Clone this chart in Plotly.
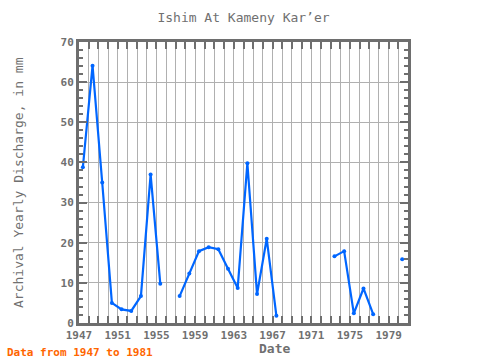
import plotly.graph_objects as go

years = [1947, 1948, 1949, 1950, 1951, 1952, 1953, 1954, 1955, 1956,
         1957, 1958, 1959, 1960, 1961, 1962, 1963, 1964, 1965, 1966,
         1967, 1968, 1969, 1970, 1971, 1972, 1973, 1974, 1975, 1976,
         1977, 1978, 1979, 1980]
discharge = [38.8, 64.1, 35.0, 5.0, 3.4, 3.0, 6.7, 37.0, 9.8, None,
             6.7, 12.3, 17.9, 18.9, 18.4, 13.5, 8.7, 39.8, 7.2, 21.0,
             1.8, None, None, None, None, None, 16.6, 17.9, 2.4, 8.6,
             2.2, None, None, 15.9]
x_tick_vals = [1947, 1951, 1955, 1959, 1963, 1967, 1971, 1975, 1979]
y_tick_vals = [0, 10, 20, 30, 40, 50, 60, 70]

# annual values plotted near mid-year
x_pos = [y + 0.4 for y in years]

axis_col = "#6e6e6e"
grid_col = "#b0b0b0"
font_fam = "DejaVu Sans Mono"
W, H = 480, 360
L, R, T, B = 79, 72, 42, 37
pw, ph = W - L - R, H - T - B

fig = go.Figure()
fig.add_trace(go.Scatter(
    x=x_pos, y=discharge, mode="lines+markers",
    line=dict(color="#0066ff", width=2.2),
    marker=dict(color="#0066ff", size=4),
    connectgaps=False, showlegend=False,
))

fig.update_layout(
    width=W, height=H,
    margin=dict(l=L, r=R, t=T, b=B, autoexpand=False),
    paper_bgcolor="white", plot_bgcolor="white",
    title=dict(text="Ishim At Kameny Kar’er", x=0.5, xref="paper", xanchor="center",
               y=1 - 17 / H, yref="container", yanchor="middle",
               font=dict(family=font_fam, size=13, color="#707070")),
    font=dict(family=font_fam),
)

fig.update_xaxes(
    range=[1947, 1981], tickmode="array", tickvals=x_tick_vals,
    ticktext=[str(v) for v in x_tick_vals], automargin=False,
    ticks="inside", ticklen=7, tickwidth=2, tickcolor=axis_col,
    showline=True, linewidth=3, linecolor=axis_col, mirror="ticks",
    showgrid=True, gridcolor=grid_col, gridwidth=1,
    minor=dict(dtick=1, tick0=1947, ticks="inside", ticklen=7, tickwidth=2,
               tickcolor=axis_col, showgrid=True, gridcolor=grid_col, gridwidth=1),
    tickfont=dict(family=font_fam, size=11, color="#707070", weight="bold"),
    zeroline=False,
)
fig.update_yaxes(
    range=[0, 70], tickmode="array", tickvals=y_tick_vals, automargin=False,
    ticks="inside", ticklen=8, tickwidth=2, tickcolor=axis_col,
    showline=True, linewidth=3, linecolor=axis_col, mirror="ticks",
    showgrid=True, gridcolor=grid_col, gridwidth=1,
    minor=dict(dtick=2, tick0=0, ticks="inside", ticklen=4, tickwidth=2,
               tickcolor=axis_col, showgrid=False),
    tickfont=dict(family=font_fam, size=11, color="#707070", weight="bold"),
    zeroline=False,
)

fig.add_annotation(
    text="Date", xref="paper", yref="paper",
    x=(274 - L) / pw, y=-(348 - (H - B)) / ph, xanchor="center", yanchor="middle",
    showarrow=False,
    font=dict(family=font_fam, size=13, color="#707070", weight="bold"),
)
fig.add_annotation(
    text="Archival Yearly Discharge, in mm", xref="paper", yref="paper",
    x=-(L - 18) / pw, y=((H - B) - 183) / ph, xanchor="center", yanchor="middle",
    textangle=-90, showarrow=False,
    font=dict(family=font_fam, size=13, color="#707070"),
)
fig.add_annotation(
    text="Data from 1947 to 1981", xref="paper", yref="paper",
    x=-(L - 5) / pw, y=-(352 - (H - B)) / ph, xanchor="left", yanchor="middle",
    showarrow=False,
    font=dict(family=font_fam, size=11, color="#ff6600", weight="bold"),
)

fig.write_html("out.html", config={"displayModeBar": False},
               post_script="document.body.style.margin='0';document.body.style.padding='0';")
